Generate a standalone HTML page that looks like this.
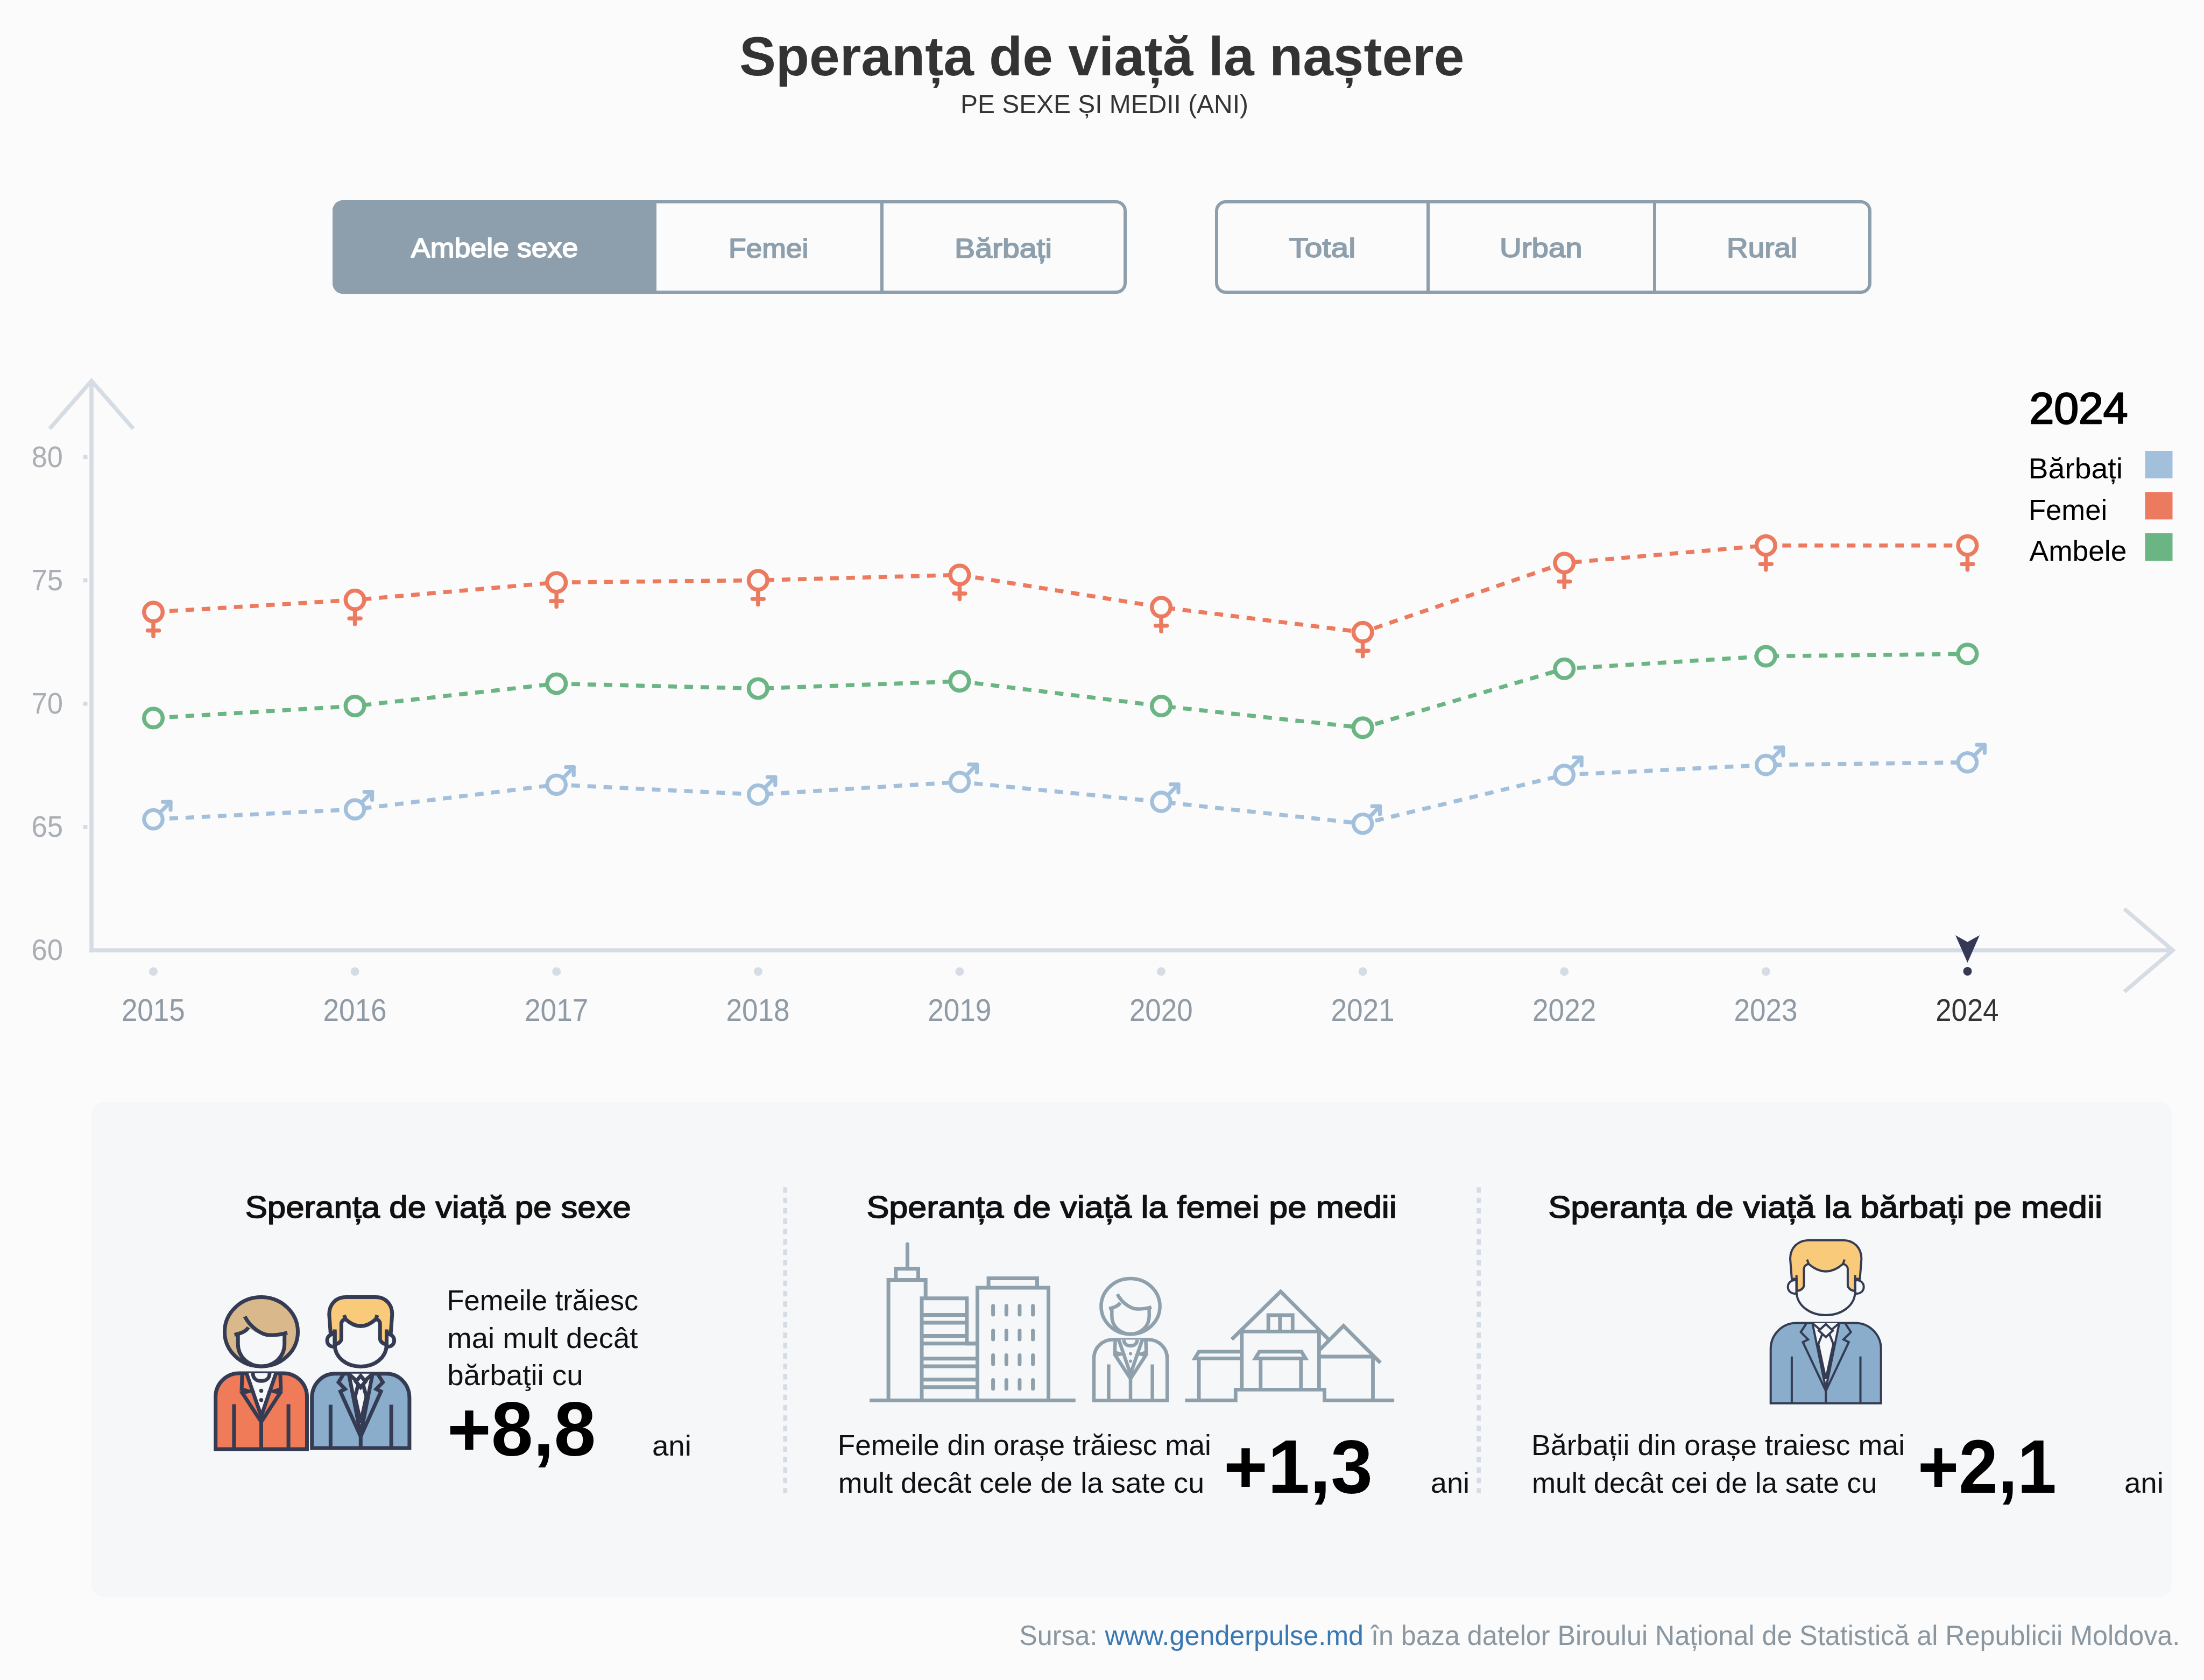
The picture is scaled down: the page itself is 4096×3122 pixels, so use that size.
<!DOCTYPE html>
<html><head><meta charset="utf-8"><style>
html,body{margin:0;padding:0;background:#fbfbfb;}
svg{display:block;font-family:"Liberation Sans",sans-serif;}
.nss *{vector-effect:non-scaling-stroke;}
</style></head><body>
<svg width="4096" height="3122" viewBox="0 0 4096 3122">
<rect width="4096" height="3122" fill="#fbfbfb"/>
<text x="1373.9" y="140.0" style="font-size:101.7px;font-weight:bold;" fill="#333" textLength="1347.5" lengthAdjust="spacingAndGlyphs" >Speranța de viață la naștere</text>
<text x="1785.0" y="209.7" style="font-size:48.8px;" fill="#333" textLength="534.9" lengthAdjust="spacingAndGlyphs" >PE SEXE ȘI MEDII (ANI)</text>
<path d="M638,372 H1220 V546 H638 A20,20 0 0 1 618,526 V392 A20,20 0 0 1 638,372 Z" fill="#8d9fac"/>
<rect x="621" y="375" width="1470" height="168" rx="17" fill="none" stroke="#8d9fac" stroke-width="6"/>
<rect x="1636" y="372" width="6" height="174" fill="#8d9fac"/>
<rect x="2261" y="375" width="1214" height="168" rx="17" fill="none" stroke="#8d9fac" stroke-width="6"/>
<rect x="2651" y="372" width="6" height="174" fill="#8d9fac"/>
<rect x="3072" y="372" width="6" height="174" fill="#8d9fac"/>
<text x="763.8" y="478.1" style="font-size:50.4px;" fill="#ffffff" textLength="310.7" lengthAdjust="spacingAndGlyphs"  stroke="#ffffff" stroke-width="1.8" stroke-linejoin="round">Ambele sexe</text>
<text x="1353.9" y="478.6" style="font-size:50.4px;" fill="#8d9fac" textLength="148.6" lengthAdjust="spacingAndGlyphs"  stroke="#8d9fac" stroke-width="1.8" stroke-linejoin="round">Femei</text>
<text x="1774.1" y="478.6" style="font-size:50.4px;" fill="#8d9fac" textLength="180.9" lengthAdjust="spacingAndGlyphs"  stroke="#8d9fac" stroke-width="1.8" stroke-linejoin="round">Bărbați</text>
<text x="2395.5" y="478.1" style="font-size:50.4px;" fill="#8d9fac" textLength="123.7" lengthAdjust="spacingAndGlyphs"  stroke="#8d9fac" stroke-width="1.8" stroke-linejoin="round">Total</text>
<text x="2787.1" y="478.1" style="font-size:50.4px;" fill="#8d9fac" textLength="153.6" lengthAdjust="spacingAndGlyphs"  stroke="#8d9fac" stroke-width="1.8" stroke-linejoin="round">Urban</text>
<text x="3209.0" y="478.1" style="font-size:50.4px;" fill="#8d9fac" textLength="131.2" lengthAdjust="spacingAndGlyphs"  stroke="#8d9fac" stroke-width="1.8" stroke-linejoin="round">Rural</text>
<line x1="170" y1="708" x2="170" y2="1769.7" stroke="#d5dce3" stroke-width="7.5"/>
<polyline points="92.4,796.6 170,707.7 247.6,796.6" fill="none" stroke="#d5dce3" stroke-width="7.5"/>
<line x1="166.3" y1="1766" x2="4036" y2="1766" stroke="#d5dce3" stroke-width="7.5"/>
<polyline points="3948,1689 4038,1766 3948,1843" fill="none" stroke="#d5dce3" stroke-width="7.5"/>
<rect x="154.5" y="845.5" width="8" height="7.6" fill="#d5dce3"/>
<rect x="154.5" y="1074.7" width="8" height="7.6" fill="#d5dce3"/>
<rect x="154.5" y="1303.9" width="8" height="7.6" fill="#d5dce3"/>
<rect x="154.5" y="1533.1" width="8" height="7.6" fill="#d5dce3"/>
<text x="58.8" y="867.6" style="font-size:55.2px;" fill="#a9afb4" textLength="58.1" lengthAdjust="spacingAndGlyphs" >80</text>
<text x="58.4" y="1096.8" style="font-size:55.2px;" fill="#a9afb4" textLength="58.7" lengthAdjust="spacingAndGlyphs" >75</text>
<text x="58.4" y="1326.0" style="font-size:55.2px;" fill="#a9afb4" textLength="58.5" lengthAdjust="spacingAndGlyphs" >70</text>
<text x="58.4" y="1555.2" style="font-size:55.2px;" fill="#a9afb4" textLength="58.7" lengthAdjust="spacingAndGlyphs" >65</text>
<text x="58.4" y="1784.4" style="font-size:55.2px;" fill="#a9afb4" textLength="58.5" lengthAdjust="spacingAndGlyphs" >60</text>
<text x="225.9" y="1897.0" style="font-size:56.7px;" fill="#8e9aa5" textLength="117.9" lengthAdjust="spacingAndGlyphs" >2015</text>
<circle cx="285.0" cy="1805.4" r="8" fill="#d5dce3"/>
<text x="600.4" y="1897.0" style="font-size:56.7px;" fill="#8e9aa5" textLength="118.0" lengthAdjust="spacingAndGlyphs" >2016</text>
<circle cx="659.6" cy="1805.4" r="8" fill="#d5dce3"/>
<text x="975.0" y="1897.0" style="font-size:56.7px;" fill="#8e9aa5" textLength="118.4" lengthAdjust="spacingAndGlyphs" >2017</text>
<circle cx="1034.2" cy="1805.4" r="8" fill="#d5dce3"/>
<text x="1349.6" y="1897.0" style="font-size:56.7px;" fill="#8e9aa5" textLength="118.0" lengthAdjust="spacingAndGlyphs" >2018</text>
<circle cx="1408.8" cy="1805.4" r="8" fill="#d5dce3"/>
<text x="1724.2" y="1897.0" style="font-size:56.7px;" fill="#8e9aa5" textLength="118.2" lengthAdjust="spacingAndGlyphs" >2019</text>
<circle cx="1783.4" cy="1805.4" r="8" fill="#d5dce3"/>
<text x="2098.9" y="1897.0" style="font-size:56.7px;" fill="#8e9aa5" textLength="117.7" lengthAdjust="spacingAndGlyphs" >2020</text>
<circle cx="2158.0" cy="1805.4" r="8" fill="#d5dce3"/>
<text x="2473.4" y="1897.0" style="font-size:56.7px;" fill="#8e9aa5" textLength="118.3" lengthAdjust="spacingAndGlyphs" >2021</text>
<circle cx="2532.6" cy="1805.4" r="8" fill="#d5dce3"/>
<text x="2848.0" y="1897.0" style="font-size:56.7px;" fill="#8e9aa5" textLength="118.4" lengthAdjust="spacingAndGlyphs" >2022</text>
<circle cx="2907.2" cy="1805.4" r="8" fill="#d5dce3"/>
<text x="3222.6" y="1897.0" style="font-size:56.7px;" fill="#8e9aa5" textLength="118.0" lengthAdjust="spacingAndGlyphs" >2023</text>
<circle cx="3281.8" cy="1805.4" r="8" fill="#d5dce3"/>
<text x="3597.3" y="1897.0" style="font-size:56.7px;" fill="#333" textLength="117.2" lengthAdjust="spacingAndGlyphs" >2024</text>
<circle cx="3656.5" cy="1805" r="8" fill="#343a55"/>
<polygon points="3634,1738 3656.5,1750.6 3679,1738 3656.5,1789" fill="#343a55"/>
<polyline points="285.0,1137.3 659.6,1114.8 1034.2,1082.4 1408.8,1078.4 1783.4,1068.4 2158.0,1128.3 2532.6,1174.8 2907.2,1046.2 3281.8,1013.7 3656.4,1013.7" fill="none" stroke="#ec7a5f" stroke-width="7.5" stroke-dasharray="16 14"/>
<polyline points="285.0,1334.4 659.6,1312.0 1034.2,1270.5 1408.8,1279.5 1783.4,1266.0 2158.0,1312.0 2532.6,1352.4 2907.2,1242.8 3281.8,1219.5 3656.4,1215.2" fill="none" stroke="#6ab583" stroke-width="7.5" stroke-dasharray="16 14"/>
<polyline points="285.0,1522.6 659.6,1504.0 1034.2,1458.2 1408.8,1476.6 1783.4,1453.2 2158.0,1490.1 2532.6,1530.7 2907.2,1440.0 3281.8,1421.6 3656.4,1416.7" fill="none" stroke="#a2c0db" stroke-width="7.5" stroke-dasharray="16 14"/>
<g fill="none" stroke="#ec7a5f" stroke-width="7.5" stroke-linecap="round"><circle cx="285.0" cy="1137.3" r="17.3" fill="#fbfbfb"/><line x1="285.0" y1="1158.3" x2="285.0" y2="1182.3"/><line x1="274.6" y1="1171.8" x2="295.4" y2="1171.8"/></g>
<g fill="none" stroke="#ec7a5f" stroke-width="7.5" stroke-linecap="round"><circle cx="659.6" cy="1114.8" r="17.3" fill="#fbfbfb"/><line x1="659.6" y1="1135.8" x2="659.6" y2="1159.8"/><line x1="649.2" y1="1149.3" x2="670.0" y2="1149.3"/></g>
<g fill="none" stroke="#ec7a5f" stroke-width="7.5" stroke-linecap="round"><circle cx="1034.2" cy="1082.4" r="17.3" fill="#fbfbfb"/><line x1="1034.2" y1="1103.4" x2="1034.2" y2="1127.4"/><line x1="1023.8" y1="1116.9" x2="1044.6" y2="1116.9"/></g>
<g fill="none" stroke="#ec7a5f" stroke-width="7.5" stroke-linecap="round"><circle cx="1408.8" cy="1078.4" r="17.3" fill="#fbfbfb"/><line x1="1408.8" y1="1099.4" x2="1408.8" y2="1123.4"/><line x1="1398.4" y1="1112.9" x2="1419.2" y2="1112.9"/></g>
<g fill="none" stroke="#ec7a5f" stroke-width="7.5" stroke-linecap="round"><circle cx="1783.4" cy="1068.4" r="17.3" fill="#fbfbfb"/><line x1="1783.4" y1="1089.4" x2="1783.4" y2="1113.4"/><line x1="1773.0" y1="1102.9" x2="1793.8" y2="1102.9"/></g>
<g fill="none" stroke="#ec7a5f" stroke-width="7.5" stroke-linecap="round"><circle cx="2158.0" cy="1128.3" r="17.3" fill="#fbfbfb"/><line x1="2158.0" y1="1149.3" x2="2158.0" y2="1173.3"/><line x1="2147.6" y1="1162.8" x2="2168.4" y2="1162.8"/></g>
<g fill="none" stroke="#ec7a5f" stroke-width="7.5" stroke-linecap="round"><circle cx="2532.6" cy="1174.8" r="17.3" fill="#fbfbfb"/><line x1="2532.6" y1="1195.8" x2="2532.6" y2="1219.8"/><line x1="2522.2" y1="1209.3" x2="2543.0" y2="1209.3"/></g>
<g fill="none" stroke="#ec7a5f" stroke-width="7.5" stroke-linecap="round"><circle cx="2907.2" cy="1046.2" r="17.3" fill="#fbfbfb"/><line x1="2907.2" y1="1067.2" x2="2907.2" y2="1091.2"/><line x1="2896.8" y1="1080.7" x2="2917.6" y2="1080.7"/></g>
<g fill="none" stroke="#ec7a5f" stroke-width="7.5" stroke-linecap="round"><circle cx="3281.8" cy="1013.7" r="17.3" fill="#fbfbfb"/><line x1="3281.8" y1="1034.7" x2="3281.8" y2="1058.7"/><line x1="3271.4" y1="1048.2" x2="3292.2" y2="1048.2"/></g>
<g fill="none" stroke="#ec7a5f" stroke-width="7.5" stroke-linecap="round"><circle cx="3656.4" cy="1013.7" r="17.3" fill="#fbfbfb"/><line x1="3656.4" y1="1034.7" x2="3656.4" y2="1058.7"/><line x1="3646.0" y1="1048.2" x2="3666.8" y2="1048.2"/></g>
<circle cx="285.0" cy="1334.4" r="17.3" fill="#fbfbfb" stroke="#6ab583" stroke-width="7.5"/>
<circle cx="659.6" cy="1312.0" r="17.3" fill="#fbfbfb" stroke="#6ab583" stroke-width="7.5"/>
<circle cx="1034.2" cy="1270.5" r="17.3" fill="#fbfbfb" stroke="#6ab583" stroke-width="7.5"/>
<circle cx="1408.8" cy="1279.5" r="17.3" fill="#fbfbfb" stroke="#6ab583" stroke-width="7.5"/>
<circle cx="1783.4" cy="1266.0" r="17.3" fill="#fbfbfb" stroke="#6ab583" stroke-width="7.5"/>
<circle cx="2158.0" cy="1312.0" r="17.3" fill="#fbfbfb" stroke="#6ab583" stroke-width="7.5"/>
<circle cx="2532.6" cy="1352.4" r="17.3" fill="#fbfbfb" stroke="#6ab583" stroke-width="7.5"/>
<circle cx="2907.2" cy="1242.8" r="17.3" fill="#fbfbfb" stroke="#6ab583" stroke-width="7.5"/>
<circle cx="3281.8" cy="1219.5" r="17.3" fill="#fbfbfb" stroke="#6ab583" stroke-width="7.5"/>
<circle cx="3656.4" cy="1215.2" r="17.3" fill="#fbfbfb" stroke="#6ab583" stroke-width="7.5"/>
<g fill="none" stroke="#a2c0db" stroke-width="7.2" stroke-linecap="round" stroke-linejoin="round"><circle cx="285.0" cy="1522.6" r="17.2" fill="#fbfbfb"/><line x1="297.0" y1="1510.6" x2="317.0" y2="1490.1"/><polyline points="302.5,1490.1 317.0,1490.1 317.0,1505.1"/></g>
<g fill="none" stroke="#a2c0db" stroke-width="7.2" stroke-linecap="round" stroke-linejoin="round"><circle cx="659.6" cy="1504.0" r="17.2" fill="#fbfbfb"/><line x1="671.6" y1="1492.0" x2="691.6" y2="1471.5"/><polyline points="677.1,1471.5 691.6,1471.5 691.6,1486.5"/></g>
<g fill="none" stroke="#a2c0db" stroke-width="7.2" stroke-linecap="round" stroke-linejoin="round"><circle cx="1034.2" cy="1458.2" r="17.2" fill="#fbfbfb"/><line x1="1046.2" y1="1446.2" x2="1066.2" y2="1425.7"/><polyline points="1051.7,1425.7 1066.2,1425.7 1066.2,1440.7"/></g>
<g fill="none" stroke="#a2c0db" stroke-width="7.2" stroke-linecap="round" stroke-linejoin="round"><circle cx="1408.8" cy="1476.6" r="17.2" fill="#fbfbfb"/><line x1="1420.8" y1="1464.6" x2="1440.8" y2="1444.1"/><polyline points="1426.3,1444.1 1440.8,1444.1 1440.8,1459.1"/></g>
<g fill="none" stroke="#a2c0db" stroke-width="7.2" stroke-linecap="round" stroke-linejoin="round"><circle cx="1783.4" cy="1453.2" r="17.2" fill="#fbfbfb"/><line x1="1795.4" y1="1441.2" x2="1815.4" y2="1420.7"/><polyline points="1800.9,1420.7 1815.4,1420.7 1815.4,1435.7"/></g>
<g fill="none" stroke="#a2c0db" stroke-width="7.2" stroke-linecap="round" stroke-linejoin="round"><circle cx="2158.0" cy="1490.1" r="17.2" fill="#fbfbfb"/><line x1="2170.0" y1="1478.1" x2="2190.0" y2="1457.6"/><polyline points="2175.5,1457.6 2190.0,1457.6 2190.0,1472.6"/></g>
<g fill="none" stroke="#a2c0db" stroke-width="7.2" stroke-linecap="round" stroke-linejoin="round"><circle cx="2532.6" cy="1530.7" r="17.2" fill="#fbfbfb"/><line x1="2544.6" y1="1518.7" x2="2564.6" y2="1498.2"/><polyline points="2550.1,1498.2 2564.6,1498.2 2564.6,1513.2"/></g>
<g fill="none" stroke="#a2c0db" stroke-width="7.2" stroke-linecap="round" stroke-linejoin="round"><circle cx="2907.2" cy="1440.0" r="17.2" fill="#fbfbfb"/><line x1="2919.2" y1="1428.0" x2="2939.2" y2="1407.5"/><polyline points="2924.7,1407.5 2939.2,1407.5 2939.2,1422.5"/></g>
<g fill="none" stroke="#a2c0db" stroke-width="7.2" stroke-linecap="round" stroke-linejoin="round"><circle cx="3281.8" cy="1421.6" r="17.2" fill="#fbfbfb"/><line x1="3293.8" y1="1409.6" x2="3313.8" y2="1389.1"/><polyline points="3299.3,1389.1 3313.8,1389.1 3313.8,1404.1"/></g>
<g fill="none" stroke="#a2c0db" stroke-width="7.2" stroke-linecap="round" stroke-linejoin="round"><circle cx="3656.4" cy="1416.7" r="17.2" fill="#fbfbfb"/><line x1="3668.4" y1="1404.7" x2="3688.4" y2="1384.2"/><polyline points="3673.9,1384.2 3688.4,1384.2 3688.4,1399.2"/></g>
<text x="3771.4" y="786.7" style="font-size:82.3px;" fill="#000" textLength="183.2" lengthAdjust="spacingAndGlyphs"  stroke="#000" stroke-width="2.4" stroke-linejoin="round">2024</text>
<text x="3769.4" y="889.0" style="font-size:53.8px;" fill="#000" textLength="175.7" lengthAdjust="spacingAndGlyphs" >Bărbați</text>
<text x="3770.0" y="965.8" style="font-size:53.8px;" fill="#000" textLength="146.1" lengthAdjust="spacingAndGlyphs" >Femei</text>
<text x="3771.6" y="1041.9" style="font-size:53.8px;" fill="#000" textLength="180.7" lengthAdjust="spacingAndGlyphs" >Ambele</text>
<rect x="3986.5" y="838" width="51" height="51" fill="#a2c0db"/>
<rect x="3986.5" y="914.3" width="51" height="51" fill="#ec7a5f"/>
<rect x="3986.5" y="991" width="51" height="51" fill="#6ab583"/>
<rect x="170" y="2048" width="3866" height="919" rx="22" fill="#f5f7f9"/>
<line x1="1459.2" y1="2206.4" x2="1459.2" y2="2775" stroke="#d6dce3" stroke-width="7.7" stroke-dasharray="10.2 9.07"/>
<line x1="2748.1" y1="2206.4" x2="2748.1" y2="2775" stroke="#d6dce3" stroke-width="7.7" stroke-dasharray="10.2 9.07"/>
<text x="455.7" y="2263.2" style="font-size:58.0px;" fill="#111" textLength="717.2" lengthAdjust="spacingAndGlyphs"  stroke="#111" stroke-width="1.6" stroke-linejoin="round">Speranța de viață pe sexe</text>
<text x="1610.4" y="2263.2" style="font-size:58.0px;" fill="#111" textLength="985.4" lengthAdjust="spacingAndGlyphs"  stroke="#111" stroke-width="1.6" stroke-linejoin="round">Speranța de viață la femei pe medii</text>
<text x="2877.2" y="2263.2" style="font-size:58.0px;" fill="#111" textLength="1029.9" lengthAdjust="spacingAndGlyphs"  stroke="#111" stroke-width="1.6" stroke-linejoin="round">Speranța de viață la bărbați pe medii</text>
<text x="830.5" y="2434.9" style="font-size:53.8px;" fill="#111" textLength="355.8" lengthAdjust="spacingAndGlyphs" >Femeile trăiesc</text>
<text x="831.3" y="2504.6" style="font-size:53.8px;" fill="#111" textLength="354.0" lengthAdjust="spacingAndGlyphs" >mai mult decât</text>
<text x="831.2" y="2573.6" style="font-size:53.8px;" fill="#111" textLength="252.6" lengthAdjust="spacingAndGlyphs" >bărbaţii cu</text>
<text x="831.0" y="2704.6" style="font-size:143.0px;font-weight:bold;" fill="#000" textLength="276.4" lengthAdjust="spacingAndGlyphs" >+8,8</text>
<text x="1211.9" y="2704.6" style="font-size:53.8px;" fill="#111" textLength="73.1" lengthAdjust="spacingAndGlyphs" >ani</text>
<text x="1556.8" y="2703.9" style="font-size:53.8px;" fill="#111" textLength="694.0" lengthAdjust="spacingAndGlyphs" >Femeile din orașe trăiesc mai</text>
<text x="1557.7" y="2773.5" style="font-size:53.8px;" fill="#111" textLength="680.3" lengthAdjust="spacingAndGlyphs" >mult decât cele de la sate cu</text>
<text x="2273.9" y="2773.8" style="font-size:141.5px;font-weight:bold;" fill="#000" textLength="277.2" lengthAdjust="spacingAndGlyphs" >+1,3</text>
<text x="2658.8" y="2773.8" style="font-size:53.8px;" fill="#111" textLength="72.3" lengthAdjust="spacingAndGlyphs" >ani</text>
<text x="2845.9" y="2703.9" style="font-size:53.8px;" fill="#111" textLength="694.4" lengthAdjust="spacingAndGlyphs" >Bărbații din orașe traiesc mai</text>
<text x="2846.9" y="2773.5" style="font-size:53.8px;" fill="#111" textLength="641.6" lengthAdjust="spacingAndGlyphs" >mult decât cei de la sate cu</text>
<text x="3564.0" y="2773.8" style="font-size:141.5px;font-weight:bold;" fill="#000" textLength="257.8" lengthAdjust="spacingAndGlyphs" >+2,1</text>
<text x="3947.9" y="2773.8" style="font-size:53.8px;" fill="#111" textLength="72.9" lengthAdjust="spacingAndGlyphs" >ani</text>
<text x="1894.2" y="3056.7" style="font-size:52.3px" fill="#8a96a0" textLength="2157.0" lengthAdjust="spacingAndGlyphs">Sursa: <tspan fill="#3a78b3">www.genderpulse.md</tspan> în baza datelor Biroului Național de Statistică al Republicii Moldova.</text>
<g class="nss" transform="translate(485.5,2410.6) scale(1.246)" stroke="#343b53" stroke-width="7" stroke-miterlimit="10">
<path d="M-68.1,226.7 V148.4 A35,35 0 0 1 -33.1,113.4 H33.2 A35,35 0 0 1 68.2,148.4 V226.7 Z" fill="#f07b58"/>
<polygon points="-22,113.4 22,113.4 0,177.4" fill="#f5f7f9" stroke="none"/>
<path d="M-12.4,113.4 C-12.4,121 -7,125 0,125 C7,125 12.4,121 12.4,113.4" fill="none"/>
<path d="M-22,113.4 L0,177.4 L22,113.4" fill="none"/>
<path d="M-28.4,113.4 L-29.2,137.2 L-19.1,140.3 L-28.4,142.6 L0,186 L28.4,142.6 L19.1,140.3 L29.2,137.2 L28.4,113.4" fill="none"/>
<path d="M0,186 V226.7 M-40.6,159.6 V226.7 M40.6,159.6 V226.7" fill="none"/>
<circle cx="0" cy="139.5" r="3" fill="#343b53" stroke="none"/><circle cx="0" cy="153.4" r="3" fill="#343b53" stroke="none"/>
<ellipse cx="0" cy="51.6" rx="54.6" ry="51.6" fill="#d9b98b"/>
<path d="M-40,56 C-30,54 -22,50 -19.1,45 C-10,53 0,56 12,56.5 C22,57 32,55 38.9,53 L34.7,54 V70 C34.7,89 19,103 0,103 C-19,103 -34.7,89 -34.7,70 V56 Z" fill="#f5f7f9" stroke="none"/>
<path d="M-24.5,28.9 C-16,45 0,56 12,56.5 C22,57 32,55 38.9,53 M-40,56 C-30,54 -22,50 -19.1,45" fill="none"/>
<path d="M-34.7,55 V70 C-34.7,89 -19,103 0,103 C19,103 34.7,89 34.7,70 V53.6" fill="none"/>
</g>
<g class="nss" transform="translate(670.3,2410.6) scale(0.884,0.925)" stroke="#343b53" stroke-width="7" stroke-linejoin="miter" stroke-miterlimit="3">
<path d="M-102.5,303 V201.8 A48,48 0 0 1 -54.5,153.8 H54.5 A48,48 0 0 1 102.5,201.8 V303 Z" fill="#89adca"/>
<polygon points="-25,153.8 25,153.8 0,276" fill="#f5f7f9" stroke="none"/><path d="M-25,153.8 L0,276 L25,153.8" fill="none"/>
<path d="M-5.0,175.25 L-12,200 L0,252 L12,200 L5.0,175.25 Z" fill="#f5f7f9"/>
<path d="M0,158 L-10,169.5 L0,181 L10,169.5 Z" fill="#f5f7f9"/>
<path d="M-25,154 L-8,169 M25,154 L8,169" fill="none"/>
<path d="M-35.8,154.2 L-46.6,170.9 L-32.9,184.6 L-42.7,189.5 L0,280 L42.7,189.5 L32.9,184.6 L46.6,170.9 L35.8,154.2" fill="none"/>
<path d="M0,280 V303 M-63.3,216 V303 M64.3,216 V303" fill="none"/>
<path d="M-54.5,40 V95 C-54.5,121 -30,139.3 0,139.3 C30,139.3 54.5,121 54.5,95 V40 Z" fill="#f5f7f9" stroke="none"/>
<path d="M-54.5,74.8 A12.5,12.5 0 1 0 -54.5,98.8" fill="#f5f7f9"/>
<path d="M54.5,74.8 A12.5,12.5 0 1 1 54.5,98.8" fill="#f5f7f9"/>
<path d="M-63.3,71.7 L-66.2,34.4 C-66.2,14 -52,0 -30.9,0 H31.9 C52,0 66.2,14 66.2,34.4 L63.3,71.7 H54.5 V94.3 C47,94.3 40.7,89 40.7,83.5 V53.1 C40.7,49 37,45 32,44 Q0,72 -32,44 C-37,45 -40.7,49 -40.7,53.1 V83.5 C-40.7,89 -47,94.3 -54.5,94.3 V71.7 Z" fill="#f9ca7a"/>
<path d="M-34.8,36 L-32,44 M34.8,36 L32,44" fill="none"/>
<path d="M-54.5,64.8 V95 C-54.5,121 -30,139.3 0,139.3 C30,139.3 54.5,121 54.5,95 V64.8" fill="none"/>
</g>
<g fill="none" stroke="#8fa0ad" stroke-width="7">
<path d="M1616.1,2602.4 H1998.8"/>
<path d="M1651.1,2602.4 V2378.4 H1720.2 V2412.8"/>
<path d="M1664.8,2378.4 V2357.8 H1706.5 V2378.4"/>
<path d="M1686.4,2312 V2357.8" stroke-linecap="round"/>
<path d="M1713,2602.4 V2412.8 H1796.8 V2496.7 H1816.5"/>
<path d="M1713,2443.6 H1796.8"/>
<path d="M1713,2458 H1796.8"/>
<path d="M1713,2482.5 H1796.8"/>
<path d="M1713,2496.7 H1816.5"/>
<path d="M1713,2524.8 H1816.5"/>
<path d="M1713,2539.1 H1816.5"/>
<path d="M1713,2563.7 H1816.5"/>
<path d="M1713,2577.8 H1816.5"/>
<path d="M1816.5,2602.4 V2392.9 H1948.5 V2602.4"/>
<path d="M1837.1,2392.9 V2375.5 H1927.5 V2392.9"/>
<path d="M1845.6,2426.7 V2443.1 M1845.6,2472.7 V2489 M1845.6,2518.5 V2535 M1845.6,2564.6 V2580.8 M1870.3,2426.7 V2443.1 M1870.3,2472.7 V2489 M1870.3,2518.5 V2535 M1870.3,2564.6 V2580.8 M1894.9,2426.7 V2443.1 M1894.9,2472.7 V2489 M1894.9,2518.5 V2535 M1894.9,2564.6 V2580.8 M1919.6,2426.7 V2443.1 M1919.6,2472.7 V2489 M1919.6,2518.5 V2535 M1919.6,2564.6 V2580.8 " stroke-linecap="round"/>
</g>
<g class="nss" transform="translate(2101,2376) scale(1)" stroke="#8fa0ad" stroke-width="6.5" stroke-miterlimit="10">
<path d="M-68.1,226.7 V148.4 A35,35 0 0 1 -33.1,113.4 H33.2 A35,35 0 0 1 68.2,148.4 V226.7 Z" fill="#f5f7f9"/>
<polygon points="-22,113.4 22,113.4 0,177.4" fill="#f5f7f9" stroke="none"/>
<path d="M-12.4,113.4 C-12.4,121 -7,125 0,125 C7,125 12.4,121 12.4,113.4" fill="none"/>
<path d="M-22,113.4 L0,177.4 L22,113.4" fill="none"/>
<path d="M-28.4,113.4 L-29.2,137.2 L-19.1,140.3 L-28.4,142.6 L0,186 L28.4,142.6 L19.1,140.3 L29.2,137.2 L28.4,113.4" fill="none"/>
<path d="M0,186 V226.7 M-40.6,159.6 V226.7 M40.6,159.6 V226.7" fill="none"/>
<circle cx="0" cy="139.5" r="3" fill="#8fa0ad" stroke="none"/><circle cx="0" cy="153.4" r="3" fill="#8fa0ad" stroke="none"/>
<ellipse cx="0" cy="51.6" rx="54.6" ry="51.6" fill="#f5f7f9"/>
<path d="M-40,56 C-30,54 -22,50 -19.1,45 C-10,53 0,56 12,56.5 C22,57 32,55 38.9,53 L34.7,54 V70 C34.7,89 19,103 0,103 C-19,103 -34.7,89 -34.7,70 V56 Z" fill="#f5f7f9" stroke="none"/>
<path d="M-24.5,28.9 C-16,45 0,56 12,56.5 C22,57 32,55 38.9,53 M-40,56 C-30,54 -22,50 -19.1,45" fill="none"/>
<path d="M-34.7,55 V70 C-34.7,89 -19,103 0,103 C19,103 34.7,89 34.7,70 V53.6" fill="none"/>
</g>
<g fill="none" stroke="#8fa0ad" stroke-width="6.8">
<path d="M2202.4,2602.4 H2296.3 V2582.4 H2461.5 V2602.4 H2591.1"/>
<path d="M2228.1,2602.4 V2524.3"/>
<path d="M2307.8,2511.9 H2228 L2220.5,2524.3 H2307.8"/>
<path d="M2307.8,2582.4 V2474.3 H2451.4 V2582.4"/>
<path d="M2289.1,2489 L2380,2400 L2468.2,2488.2"/>
<path d="M2357.1,2474.3 V2443.8 H2402.3 V2474.3 M2378.7,2443.8 V2474.3"/>
<path d="M2340.5,2511.9 H2418.7 L2426.3,2524.3 H2332.9 Z"/>
<path d="M2342.8,2582.4 V2524.3 M2417.7,2582.4 V2524.3"/>
<path d="M2451.4,2509.6 L2496.8,2463.8 L2565.4,2532.5 M2451.4,2521 H2551.5 V2602.4"/>
</g>
<g class="nss" transform="translate(3393.2,2304.7) scale(1,1)" stroke="#343b53" stroke-width="4" stroke-linejoin="miter" stroke-miterlimit="3">
<path d="M-102.5,303 V201.8 A48,48 0 0 1 -54.5,153.8 H54.5 A48,48 0 0 1 102.5,201.8 V303 Z" fill="#89adca"/>
<polygon points="-25,153.8 25,153.8 0,276" fill="#f5f7f9" stroke="none"/><path d="M-25,153.8 L0,276 L25,153.8" fill="none"/>
<path d="M-6.5,174.0 L-14,193 L0,258 L14,193 L6.5,174.0 Z" fill="#f5f7f9"/>
<path d="M0,156 L-13,168.0 L0,180 L13,168.0 Z" fill="#f5f7f9"/>
<path d="M-25,154 L-11,166 M25,154 L11,166" fill="none"/>
<path d="M-35.8,154.2 L-46.6,170.9 L-32.9,184.6 L-42.7,189.5 L0,280 L42.7,189.5 L32.9,184.6 L46.6,170.9 L35.8,154.2" fill="none"/>
<path d="M0,280 V303 M-63.3,216 V303 M64.3,216 V303" fill="none"/>
<path d="M-54.5,40 V95 C-54.5,121 -30,139.3 0,139.3 C30,139.3 54.5,121 54.5,95 V40 Z" fill="#f5f7f9" stroke="none"/>
<path d="M-54.5,74.8 A12.5,12.5 0 1 0 -54.5,98.8" fill="#f5f7f9"/>
<path d="M54.5,74.8 A12.5,12.5 0 1 1 54.5,98.8" fill="#f5f7f9"/>
<path d="M-63.3,71.7 L-66.2,34.4 C-66.2,14 -52,0 -30.9,0 H31.9 C52,0 66.2,14 66.2,34.4 L63.3,71.7 H54.5 V94.3 C47,94.3 40.7,89 40.7,83.5 V53.1 C40.7,49 37,45 32,44 Q0,72 -32,44 C-37,45 -40.7,49 -40.7,53.1 V83.5 C-40.7,89 -47,94.3 -54.5,94.3 V71.7 Z" fill="#f9ca7a"/>
<path d="M-34.8,36 L-32,44 M34.8,36 L32,44" fill="none"/>
<path d="M-54.5,64.8 V95 C-54.5,121 -30,139.3 0,139.3 C30,139.3 54.5,121 54.5,95 V64.8" fill="none"/>
</g>
</svg></body></html>
